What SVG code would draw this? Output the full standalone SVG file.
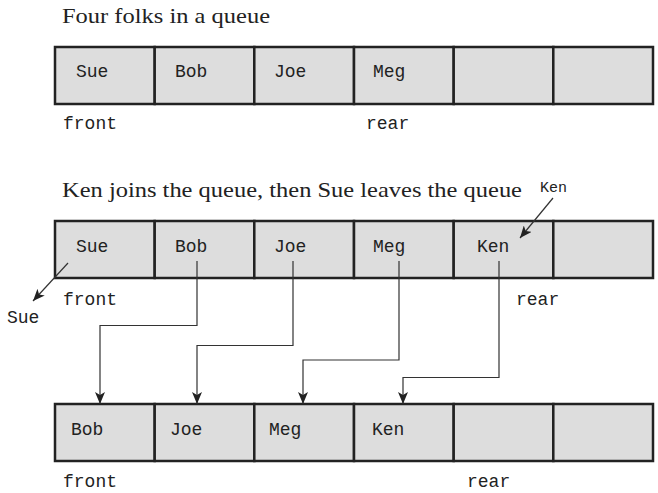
<svg xmlns="http://www.w3.org/2000/svg" width="658" height="493" viewBox="0 0 658 493">
<defs>
<style>
.cell{fill:#dddddd;stroke:#222;stroke-width:2.5}
.mono{font-family:"Liberation Mono","DejaVu Sans Mono",monospace;font-size:18px;fill:#222}
.small{font-family:"Liberation Mono","DejaVu Sans Mono",monospace;font-size:15px;fill:#222}
.title{font-family:"Liberation Serif","Times New Roman",serif;font-size:22px;fill:#222}
.conn{fill:none;stroke:#333;stroke-width:1.2}
</style>
<marker id="ah" viewBox="0 0 12 10" refX="12" refY="5" markerWidth="12" markerHeight="10" markerUnits="userSpaceOnUse" orient="auto">
<path d="M0,0 L12,5 L0,10 L3,5 Z" fill="#222"/>
</marker>
</defs>
<rect width="658" height="493" fill="#fff"/>

<text class="title" x="62" y="23" textLength="208" lengthAdjust="spacingAndGlyphs">Four folks in a queue</text>
<g id="queue1">
<rect class="cell" x="55" y="47" width="99.7" height="57"/>
<rect class="cell" x="154.7" y="47" width="99.7" height="57"/>
<rect class="cell" x="254.3" y="47" width="99.7" height="57"/>
<rect class="cell" x="354" y="47" width="99.7" height="57"/>
<rect class="cell" x="453.7" y="47" width="99.7" height="57"/>
<rect class="cell" x="553.3" y="47" width="99.7" height="57"/>
<text class="mono" x="76" y="77">Sue</text>
<text class="mono" x="175" y="77">Bob</text>
<text class="mono" x="274" y="77">Joe</text>
<text class="mono" x="373" y="77">Meg</text>
<text class="mono" x="63" y="129">front</text>
<text class="mono" x="366" y="129">rear</text>
</g>

<text class="title" x="62" y="197" textLength="460" lengthAdjust="spacingAndGlyphs">Ken joins the queue, then Sue leaves the queue</text>
<g id="queue2">
<rect class="cell" x="55" y="221" width="99.7" height="57"/>
<rect class="cell" x="154.7" y="221" width="99.7" height="57"/>
<rect class="cell" x="254.3" y="221" width="99.7" height="57"/>
<rect class="cell" x="354" y="221" width="99.7" height="57"/>
<rect class="cell" x="453.7" y="221" width="99.7" height="57"/>
<rect class="cell" x="553.3" y="221" width="99.7" height="57"/>
<text class="mono" x="76" y="252">Sue</text>
<text class="mono" x="175" y="252">Bob</text>
<text class="mono" x="274" y="252">Joe</text>
<text class="mono" x="373" y="252">Meg</text>
<text class="mono" x="477" y="252">Ken</text>
<text class="mono" x="63" y="305">front</text>
<text class="mono" x="516" y="305">rear</text>
</g>
<g id="ken-in">
<text class="small" x="540" y="192">Ken</text>
</g>
<g id="sue-out">
<text class="mono" x="7" y="323">Sue</text>
</g>

<g id="queue3">
<rect class="cell" x="55" y="404" width="99.7" height="57"/>
<rect class="cell" x="154.7" y="404" width="99.7" height="57"/>
<rect class="cell" x="254.3" y="404" width="99.7" height="57"/>
<rect class="cell" x="354" y="404" width="99.7" height="57"/>
<rect class="cell" x="453.7" y="404" width="99.7" height="57"/>
<rect class="cell" x="553.3" y="404" width="99.7" height="57"/>
<text class="mono" x="71" y="435">Bob</text>
<text class="mono" x="170" y="435">Joe</text>
<text class="mono" x="269" y="435">Meg</text>
<text class="mono" x="372" y="435">Ken</text>
<text class="mono" x="63" y="487">front</text>
<text class="mono" x="467" y="487">rear</text>
</g>

<g id="connectors">
<path class="conn" d="M553,198 L520,238" marker-end="url(#ah)"/>
<path class="conn" d="M68,263 L33,301" marker-end="url(#ah)"/>
<path class="conn" d="M197,261 V325.5 H100 V404" marker-end="url(#ah)"/>
<path class="conn" d="M293,261 V345.5 H197 V404" marker-end="url(#ah)"/>
<path class="conn" d="M399,261 V360 H303 V404" marker-end="url(#ah)"/>
<path class="conn" d="M499,261 V377.5 H403 V404" marker-end="url(#ah)"/>
</g>
</svg>
